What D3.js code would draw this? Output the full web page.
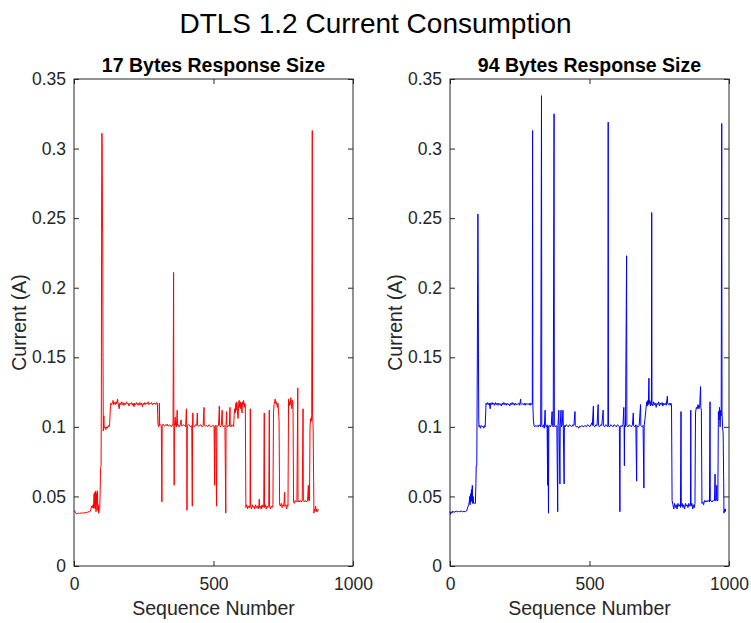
<!DOCTYPE html>
<html>
<head>
<meta charset="utf-8">
<script src="https://cdn.jsdelivr.net/npm/d3@7"></script>
<style>
  html, body { margin: 0; padding: 0; background: #fff; }
  svg { display: block; font-family: "Liberation Sans", Arial, Helvetica, sans-serif; }
</style>
</head>
<body>
<svg id="chart" width="751" height="623"></svg>
<script>
// ---------------- DATA ----------------
const chartTitle = "DTLS 1.2 Current Consumption";
const panelTitles = ["17 Bytes Response Size", "94 Bytes Response Size"];
const xLabel = "Sequence Number";
const yLabel = "Current (A)";
const xTickValues = [0, 500, 1000];
const xTickLabels = ["0", "500", "1000"];
const yTickValues = [0, 0.05, 0.1, 0.15, 0.2, 0.25, 0.3, 0.35];
const yTickLabels = ["0", "0.05", "0.1", "0.15", "0.2", "0.25", "0.3", "0.35"];

// [sequence number, current (A)]
const trace17 = [[0,0.040],[3,0.0395],[6,0.038],[10,0.0375],[15,0.038],[20,0.0378],[25,0.038],[30,0.0382],[35,0.038],[40,0.0385],[45,0.0383],[50,0.0388],[55,0.039],[58,0.0392],[61,0.041],[63,0.043],[66,0.042],[68,0.044],[70,0.0415],[72,0.052],[73,0.042],[75,0.053],[76,0.041],[78,0.054],[79,0.039],[81,0.052],[82,0.044],[84,0.054],[85,0.040],[87,0.044],[88,0.038],[90,0.039],[92,0.040],[94,0.055],[95,0.070],[97,0.072],[98,0.115],[99,0.250],[100,0.311],[101,0.300],[102,0.245],[103,0.240],[104,0.150],[105,0.097],[106,0.100],[107,0.108],[108,0.099],[111,0.100],[114,0.098],[117,0.100],[120,0.099],[123,0.101],[126,0.100],[128,0.103],[130,0.112],[132,0.117],[135,0.116],[138,0.1175],[140,0.119],[142,0.116],[145,0.1175],[148,0.116],[151,0.118],[153,0.1165],[156,0.120],[158,0.117],[160,0.115],[162,0.113],[164,0.117],[167,0.116],[170,0.118],[173,0.116],[176,0.1175],[179,0.1155],[182,0.117],[185,0.116],[188,0.118],[191,0.1165],[194,0.117],[197,0.115],[200,0.117],[203,0.1165],[206,0.1175],[209,0.1155],[212,0.117],[215,0.1145],[218,0.117],[221,0.116],[224,0.1175],[227,0.116],[230,0.117],[233,0.1155],[236,0.1175],[239,0.116],[242,0.117],[245,0.1145],[248,0.117],[251,0.116],[254,0.1175],[257,0.116],[260,0.117],[263,0.1165],[266,0.118],[269,0.116],[272,0.117],[275,0.1165],[278,0.1175],[281,0.116],[284,0.117],[287,0.1165],[290,0.117],[293,0.116],[296,0.1175],[299,0.117],[300,0.108],[301,0.102],[303,0.100],[305,0.101],[306,0.117],[307,0.101],[310,0.1015],[313,0.101],[315,0.046],[316,0.101],[319,0.102],[322,0.101],[325,0.1005],[328,0.1015],[331,0.101],[334,0.102],[337,0.1005],[340,0.101],[343,0.1015],[346,0.101],[349,0.100],[352,0.1015],[355,0.101],[357,0.211],[358,0.101],[359,0.058],[360,0.101],[363,0.107],[364,0.101],[367,0.100],[370,0.112],[371,0.101],[374,0.1015],[377,0.100],[380,0.101],[384,0.105],[385,0.101],[388,0.1005],[392,0.1015],[396,0.101],[400,0.100],[403,0.113],[404,0.101],[405,0.040],[406,0.101],[410,0.1015],[414,0.101],[418,0.100],[422,0.101],[424,0.043],[425,0.101],[426,0.110],[427,0.101],[431,0.100],[435,0.1015],[440,0.101],[442,0.110],[443,0.101],[447,0.1005],[451,0.101],[455,0.1015],[459,0.100],[463,0.101],[466,0.114],[467,0.101],[471,0.1005],[475,0.101],[479,0.100],[483,0.1015],[487,0.101],[491,0.100],[495,0.101],[499,0.1005],[502,0.101],[504,0.058],[505,0.100],[508,0.101],[511,0.043],[512,0.101],[515,0.1005],[518,0.101],[521,0.115],[522,0.101],[525,0.100],[528,0.1015],[531,0.112],[532,0.101],[535,0.100],[538,0.101],[541,0.1005],[544,0.038],[545,0.101],[547,0.111],[548,0.101],[551,0.100],[554,0.101],[557,0.1005],[559,0.114],[560,0.101],[563,0.100],[566,0.1015],[569,0.101],[572,0.100],[574,0.108],[576,0.113],[578,0.110],[580,0.117],[582,0.112],[584,0.118],[586,0.110],[588,0.106],[590,0.116],[592,0.119],[594,0.114],[596,0.118],[598,0.113],[600,0.117],[602,0.110],[604,0.118],[606,0.116],[608,0.119],[610,0.114],[612,0.117],[614,0.116],[616,0.042],[619,0.044],[622,0.041],[625,0.043],[628,0.042],[631,0.044],[632,0.113],[633,0.043],[636,0.041],[639,0.044],[642,0.042],[645,0.043],[648,0.041],[651,0.044],[654,0.042],[657,0.043],[660,0.041],[663,0.044],[664,0.048],[665,0.042],[668,0.043],[671,0.041],[674,0.044],[677,0.042],[680,0.043],[682,0.110],[683,0.042],[686,0.044],[689,0.041],[692,0.043],[695,0.042],[698,0.044],[700,0.112],[701,0.043],[704,0.041],[707,0.043],[710,0.042],[713,0.044],[715,0.110],[717,0.116],[719,0.118],[721,0.120],[723,0.117],[725,0.118],[727,0.116],[729,0.114],[731,0.117],[733,0.112],[735,0.104],[737,0.044],[740,0.043],[743,0.045],[746,0.042],[749,0.044],[752,0.043],[755,0.053],[756,0.043],[759,0.044],[762,0.041],[765,0.044],[767,0.043],[769,0.120],[771,0.115],[773,0.118],[775,0.116],[777,0.121],[779,0.117],[781,0.113],[783,0.119],[785,0.116],[787,0.046],[790,0.045],[793,0.047],[796,0.046],[799,0.047],[802,0.128],[803,0.046],[806,0.047],[809,0.046],[812,0.047],[815,0.046],[818,0.047],[821,0.113],[822,0.047],[825,0.046],[828,0.047],[831,0.047],[834,0.046],[837,0.047],[840,0.058],[841,0.047],[844,0.047],[846,0.100],[848,0.106],[850,0.104],[852,0.108],[854,0.313],[855,0.110],[857,0.100],[859,0.060],[860,0.038],[862,0.041],[864,0.040],[866,0.043],[868,0.039],[870,0.041],[872,0.039],[874,0.040],[876,0.041]];

const trace94 = [[0,0.039],[2,0.037],[4,0.039],[7,0.038],[10,0.0395],[14,0.0385],[18,0.039],[22,0.0395],[26,0.039],[30,0.0392],[35,0.039],[40,0.0395],[45,0.039],[50,0.0392],[55,0.039],[59,0.0395],[62,0.041],[65,0.043],[67,0.044],[69,0.046],[71,0.050],[72,0.044],[74,0.052],[75,0.046],[77,0.055],[78,0.047],[80,0.058],[81,0.045],[83,0.050],[85,0.045],[88,0.045],[91,0.045],[93,0.060],[94,0.072],[96,0.072],[98,0.150],[99,0.205],[100,0.253],[101,0.210],[102,0.153],[103,0.105],[104,0.100],[106,0.101],[109,0.099],[112,0.101],[115,0.100],[118,0.1005],[121,0.099],[124,0.101],[126,0.100],[128,0.110],[129,0.117],[132,0.116],[135,0.1175],[138,0.116],[141,0.117],[144,0.113],[145,0.117],[148,0.116],[151,0.1175],[154,0.116],[157,0.117],[160,0.1155],[163,0.1175],[166,0.116],[169,0.117],[172,0.1155],[175,0.117],[178,0.116],[181,0.1165],[184,0.115],[187,0.117],[190,0.116],[193,0.1175],[196,0.116],[199,0.117],[202,0.1155],[205,0.117],[208,0.116],[211,0.1165],[214,0.115],[217,0.117],[220,0.116],[223,0.1175],[226,0.116],[229,0.117],[232,0.1155],[235,0.117],[238,0.116],[241,0.1165],[244,0.116],[247,0.117],[250,0.1155],[253,0.120],[254,0.117],[257,0.116],[260,0.1165],[263,0.116],[266,0.117],[269,0.1155],[272,0.117],[275,0.116],[278,0.1165],[281,0.116],[284,0.117],[287,0.1155],[290,0.117],[293,0.116],[295,0.1165],[296,0.313],[297,0.115],[299,0.105],[301,0.101],[304,0.100],[307,0.101],[310,0.1005],[313,0.101],[316,0.100],[319,0.1015],[322,0.101],[325,0.100],[328,0.338],[329,0.101],[332,0.100],[335,0.1015],[338,0.099],[341,0.112],[342,0.101],[345,0.100],[348,0.1015],[350,0.058],[351,0.101],[353,0.038],[354,0.100],[357,0.101],[360,0.100],[363,0.1015],[366,0.111],[367,0.101],[370,0.100],[373,0.325],[374,0.101],[377,0.100],[380,0.101],[383,0.1005],[386,0.039],[387,0.101],[390,0.112],[391,0.101],[394,0.059],[395,0.101],[398,0.112],[399,0.100],[402,0.101],[405,0.112],[406,0.101],[409,0.059],[410,0.101],[413,0.100],[416,0.1015],[420,0.101],[424,0.100],[428,0.1015],[432,0.101],[436,0.100],[440,0.1015],[444,0.101],[448,0.111],[449,0.101],[453,0.100],[457,0.1005],[461,0.099],[465,0.1005],[469,0.100],[473,0.101],[477,0.100],[481,0.1005],[485,0.101],[489,0.100],[493,0.1015],[497,0.101],[501,0.100],[505,0.1015],[509,0.103],[510,0.101],[514,0.115],[515,0.101],[519,0.100],[523,0.1015],[527,0.101],[531,0.116],[532,0.101],[536,0.100],[540,0.1015],[544,0.101],[549,0.112],[550,0.101],[554,0.100],[558,0.1015],[562,0.101],[566,0.100],[567,0.319],[568,0.101],[572,0.100],[576,0.1015],[580,0.101],[584,0.100],[588,0.1015],[592,0.101],[596,0.100],[600,0.1015],[604,0.101],[607,0.100],[609,0.039],[610,0.100],[613,0.101],[616,0.100],[620,0.1015],[623,0.114],[624,0.101],[625,0.072],[626,0.101],[629,0.100],[633,0.223],[634,0.101],[638,0.100],[642,0.1015],[646,0.101],[650,0.100],[654,0.1015],[657,0.110],[658,0.101],[662,0.100],[666,0.1015],[669,0.061],[670,0.101],[674,0.100],[678,0.101],[683,0.116],[684,0.101],[688,0.100],[692,0.101],[695,0.056],[696,0.101],[699,0.106],[702,0.112],[705,0.118],[707,0.115],[709,0.119],[711,0.116],[713,0.135],[714,0.117],[716,0.119],[718,0.115],[720,0.118],[722,0.116],[723,0.254],[724,0.117],[727,0.115],[730,0.118],[733,0.116],[736,0.117],[739,0.114],[742,0.117],[745,0.116],[748,0.118],[751,0.115],[754,0.117],[757,0.116],[760,0.1175],[763,0.115],[766,0.117],[769,0.116],[772,0.117],[775,0.1155],[779,0.122],[780,0.117],[783,0.116],[786,0.117],[789,0.1155],[792,0.117],[794,0.116],[796,0.047],[799,0.044],[802,0.041],[805,0.045],[808,0.042],[811,0.044],[814,0.041],[817,0.045],[820,0.043],[823,0.044],[826,0.042],[828,0.111],[829,0.043],[832,0.045],[835,0.042],[838,0.044],[841,0.041],[844,0.045],[847,0.043],[850,0.044],[853,0.042],[856,0.045],[859,0.043],[862,0.044],[863,0.112],[864,0.043],[867,0.045],[870,0.041],[873,0.044],[876,0.042],[878,0.045],[880,0.110],[883,0.114],[886,0.113],[889,0.116],[892,0.113],[895,0.115],[898,0.129],[899,0.114],[901,0.112],[903,0.045],[906,0.046],[909,0.044],[912,0.047],[915,0.046],[918,0.047],[921,0.046],[924,0.047],[927,0.047],[930,0.046],[932,0.118],[933,0.047],[936,0.047],[939,0.046],[942,0.047],[945,0.047],[948,0.047],[950,0.066],[951,0.047],[954,0.047],[956,0.058],[957,0.047],[960,0.047],[962,0.111],[964,0.105],[966,0.114],[968,0.100],[970,0.112],[972,0.108],[974,0.318],[975,0.110],[977,0.100],[979,0.095],[981,0.060],[982,0.038],[984,0.041],[986,0.039],[988,0.041]];

const panels = [
  { title: panelTitles[0], data: trace17, color: "#ff0000", left: 74, right: 353 },
  { title: panelTitles[1], data: trace94, color: "#0000ff", left: 450, right: 729 }
];

// ---------------- DRAW ----------------
const svg = d3.select("#chart");
const plotTop = 79, plotBottom = 566;
const axisColor = "#262626";
const tickFont = 17.5, labelFont = 19.5;

svg.append("text")
  .attr("x", 375.5).attr("y", 33)
  .attr("text-anchor", "middle")
  .attr("font-size", 28)
  .attr("fill", "#000")
  .text(chartTitle);

panels.forEach(p => {
  const w = p.right - p.left, h = plotBottom - plotTop;
  const x = d3.scaleLinear().domain([0, 1000]).range([0, w]);
  const y = d3.scaleLinear().domain([0, 0.35]).range([h, 0]);
  const g = svg.append("g").attr("transform", `translate(${p.left},${plotTop})`);

  // data line
  const line = d3.line().x(d => x(d[0])).y(d => y(d[1]));
  g.append("path")
    .datum(p.data)
    .attr("fill", "none")
    .attr("stroke", p.color)
    .attr("stroke-width", 1)
    .attr("stroke-linejoin", "round")
    .attr("d", line);

  // axes (ticks inward)
  const fmtX = d => xTickLabels[xTickValues.indexOf(d)];
  const fmtY = d => yTickLabels[yTickValues.indexOf(d)];

  const axB = g.append("g").attr("transform", `translate(0,${h})`)
    .call(d3.axisBottom(x).tickValues(xTickValues).tickFormat(fmtX).tickSize(-5).tickPadding(12));
  const axL = g.append("g")
    .call(d3.axisLeft(y).tickValues(yTickValues).tickFormat(fmtY).tickSize(-5).tickPadding(8));
  const axT = g.append("g")
    .call(d3.axisTop(x).tickValues(xTickValues).tickFormat("").tickSize(-5));
  const axR = g.append("g").attr("transform", `translate(${w},0)`)
    .call(d3.axisRight(y).tickValues(yTickValues).tickFormat("").tickSize(-5));

  [axB, axL, axT, axR].forEach(a => {
    a.select(".domain").remove();
    a.selectAll(".tick line").attr("stroke", axisColor).attr("stroke-width", 1);
    a.selectAll(".tick text")
      .attr("fill", axisColor)
      .attr("font-size", tickFont)
      .attr("font-family", "'Liberation Sans', Arial, sans-serif");
  });

  // box
  g.append("rect")
    .attr("x", 0).attr("y", 0).attr("width", w).attr("height", h)
    .attr("fill", "none").attr("stroke", axisColor).attr("stroke-width", 1);

  // panel title
  g.append("text")
    .attr("x", w / 2).attr("y", 72 - plotTop)
    .attr("text-anchor", "middle")
    .attr("font-size", labelFont)
    .attr("font-weight", "bold")
    .attr("fill", "#000")
    .text(p.title);

  // x label
  g.append("text")
    .attr("x", w / 2).attr("y", 615 - plotTop)
    .attr("text-anchor", "middle")
    .attr("font-size", labelFont)
    .attr("fill", axisColor)
    .text(xLabel);

  // y label
  g.append("text")
    .attr("transform", `translate(${-48},${h / 2}) rotate(-90)`)
    .attr("text-anchor", "middle")
    .attr("font-size", labelFont)
    .attr("fill", axisColor)
    .text(yLabel);
});
</script>
</body>
</html>
